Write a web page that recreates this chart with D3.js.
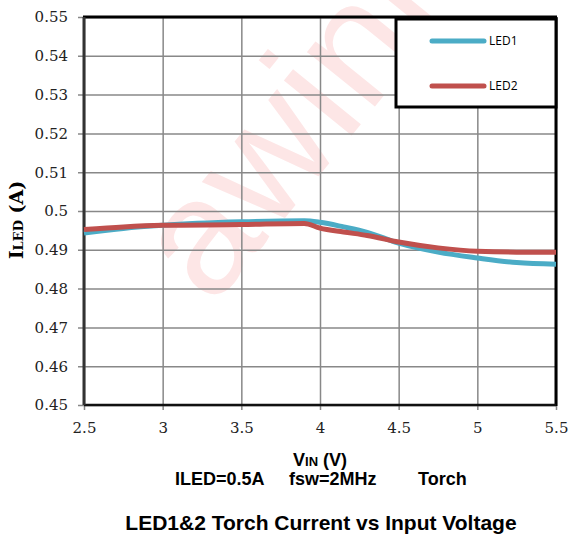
<!DOCTYPE html>
<html>
<head>
<meta charset="utf-8">
<script src="https://cdn.jsdelivr.net/npm/d3@7"></script>
<style>
  body { margin: 0; background: #fff; }
  svg { display: block; }
</style>
</head>
<body>
<svg id="mainSvg"></svg>
<script>
// values
const vin = [2.5, 2.75, 3.0, 3.5, 3.9, 4.0, 4.15, 4.3, 4.5, 4.75, 5.0, 5.25, 5.5];
const led1 = [0.4943, 0.4955, 0.4963, 0.4972, 0.4975, 0.4971, 0.4959, 0.4945, 0.4917, 0.4894, 0.4879, 0.4867, 0.4863];
const led2 = [0.4952, 0.4959, 0.4963, 0.4965, 0.4968, 0.4956, 0.4946, 0.4937, 0.4920, 0.4905, 0.4896, 0.4894, 0.4894];
const seriesNames = ['LED1', 'LED2'];
const xTicks = [2.5, 3, 3.5, 4, 4.5, 5, 5.5];
const xTickLabels = ['2.5', '3', '3.5', '4', '4.5', '5', '5.5'];
const yTicks = [0.45, 0.46, 0.47, 0.48, 0.49, 0.5, 0.51, 0.52, 0.53, 0.54, 0.55];
const yTickLabels = ['0.45', '0.46', '0.47', '0.48', '0.49', '0.5', '0.51', '0.52', '0.53', '0.54', '0.55'];
const noteParts = ['ILED=0.5A', 'fsw=2MHz', 'Torch'];

const width = 570;
const height = 536;
const plotLeft = 84, plotRight = 556, plotTop = 17, plotBottom = 405;
const colors = ['#4bacc6', '#c0504d'];
const serif = "'DejaVu Serif', serif";
const sans = "'Liberation Sans', Arial, sans-serif";

const svg = d3.select('#mainSvg')
  .attr('width', width)
  .attr('height', height);

// watermark behind everything
svg.append('text')
  .attr('transform', 'translate(212,308) rotate(-51)')
  .style('font-family', sans)
  .style('font-size', '165px')
  .style('fill', '#fde6e6')
  .text('awinic');

const xScale = d3.scaleLinear().domain([2.5, 5.5]).range([plotLeft, plotRight]);
const yScale = d3.scaleLinear().domain([0.45, 0.55]).range([plotBottom, plotTop]);

// grid + ticks
const xAxis = svg.append('g')
  .attr('transform', `translate(0,${plotBottom})`)
  .call(d3.axisBottom(xScale)
    .tickValues(xTicks)
    .tickFormat((d, i) => xTickLabels[i])
    .tickSizeInner(-(plotBottom - plotTop))
    .tickSizeOuter(0)
    .tickPadding(17));
xAxis.select('.domain').remove();
xAxis.selectAll('.tick line').attr('stroke', '#888').attr('stroke-width', 1.5).attr('y2', 5).attr('y1', -(plotBottom - plotTop));
xAxis.selectAll('.tick text')
  .style('font-family', serif)
  .style('font-size', '15px')
  .attr('fill', '#222');

const yAxis = svg.append('g')
  .attr('transform', `translate(${plotLeft},0)`)
  .call(d3.axisLeft(yScale)
    .tickValues(yTicks)
    .tickFormat((d, i) => yTickLabels[i])
    .tickSizeInner(-(plotRight - plotLeft))
    .tickSizeOuter(0)
    .tickPadding(16));
yAxis.select('.domain').remove();
yAxis.selectAll('.tick line').attr('stroke', '#888').attr('stroke-width', 1.5).attr('x1', -6);
yAxis.selectAll('.tick text')
  .style('font-family', serif)
  .style('font-size', '15px')
  .attr('fill', '#222');

// frame
svg.append('line').attr('x1', plotLeft - 1).attr('x2', plotRight + 1).attr('y1', plotTop).attr('y2', plotTop)
  .attr('stroke', '#000').attr('stroke-width', 3);
svg.append('line').attr('x1', plotRight).attr('x2', plotRight).attr('y1', plotTop).attr('y2', plotBottom + 1)
  .attr('stroke', '#000').attr('stroke-width', 3);
svg.append('line').attr('x1', plotLeft).attr('x2', plotRight).attr('y1', plotBottom).attr('y2', plotBottom)
  .attr('stroke', '#111').attr('stroke-width', 2.5);
svg.append('line').attr('x1', plotLeft).attr('x2', plotLeft).attr('y1', plotTop).attr('y2', plotBottom)
  .attr('stroke', '#333').attr('stroke-width', 3);

// lines
const lineGen = d3.line()
  .x(d => xScale(d[0]))
  .y(d => yScale(d[1]))
  .curve(d3.curveMonotoneX);

[led1, led2].forEach((s, i) => {
  svg.append('path')
    .datum(vin.map((v, j) => [v, s[j]]))
    .attr('d', lineGen)
    .attr('fill', 'none')
    .attr('stroke', colors[i])
    .attr('stroke-width', 5)
    .attr('stroke-linejoin', 'round');
});

// legend
const legend = svg.append('g');
legend.append('rect')
  .attr('x', 396).attr('y', 19).attr('width', 160).attr('height', 88)
  .attr('fill', '#fff').attr('stroke', '#000').attr('stroke-width', 3);
seriesNames.forEach((name, i) => {
  const ly = 41 + i * 45;
  legend.append('line')
    .attr('x1', 432).attr('x2', 484).attr('y1', ly).attr('y2', ly)
    .attr('stroke', colors[i]).attr('stroke-width', 5).attr('stroke-linecap', 'round');
  legend.append('text')
    .attr('x', 489).attr('y', ly).attr('dy', '0.35em')
    .style('font-family', "'Open Sans', sans-serif")
    .style('font-size', '12px')
    .text(name);
});

// y label
const yLabel = svg.append('text')
  .attr('transform', 'translate(23,220) rotate(-90)')
  .attr('text-anchor', 'middle')
  .style('font-family', serif)
  .style('font-weight', 'bold')
  .style('font-size', '19px');
yLabel.append('tspan').text('I');
yLabel.append('tspan').style('font-size', '13px').text('LED');
yLabel.append('tspan').text(' (A)');

// x label
const xLabel = svg.append('text')
  .attr('x', 293).attr('y', 466)
  .style('font-family', sans)
  .style('font-weight', 'bold')
  .style('font-size', '18px');
xLabel.append('tspan').text('V');
xLabel.append('tspan').style('font-size', '13px').text('IN');
xLabel.append('tspan').text(' (V)');

// condition note, three parts
const noteX = [175, 289, 418];
svg.append('g').selectAll('text')
  .data(noteParts)
  .join('text')
  .attr('x', (d, i) => noteX[i])
  .attr('y', 485)
  .style('font-family', sans)
  .style('font-weight', 'bold')
  .style('font-size', '18px')
  .text(d => d);

svg.append('text')
  .attr('x', 321).attr('y', 530)
  .attr('text-anchor', 'middle')
  .style('font-family', sans)
  .style('font-weight', 'bold')
  .style('font-size', '21px')
  .text('LED1&2 Torch Current vs Input Voltage');
</script>
</body>
</html>
